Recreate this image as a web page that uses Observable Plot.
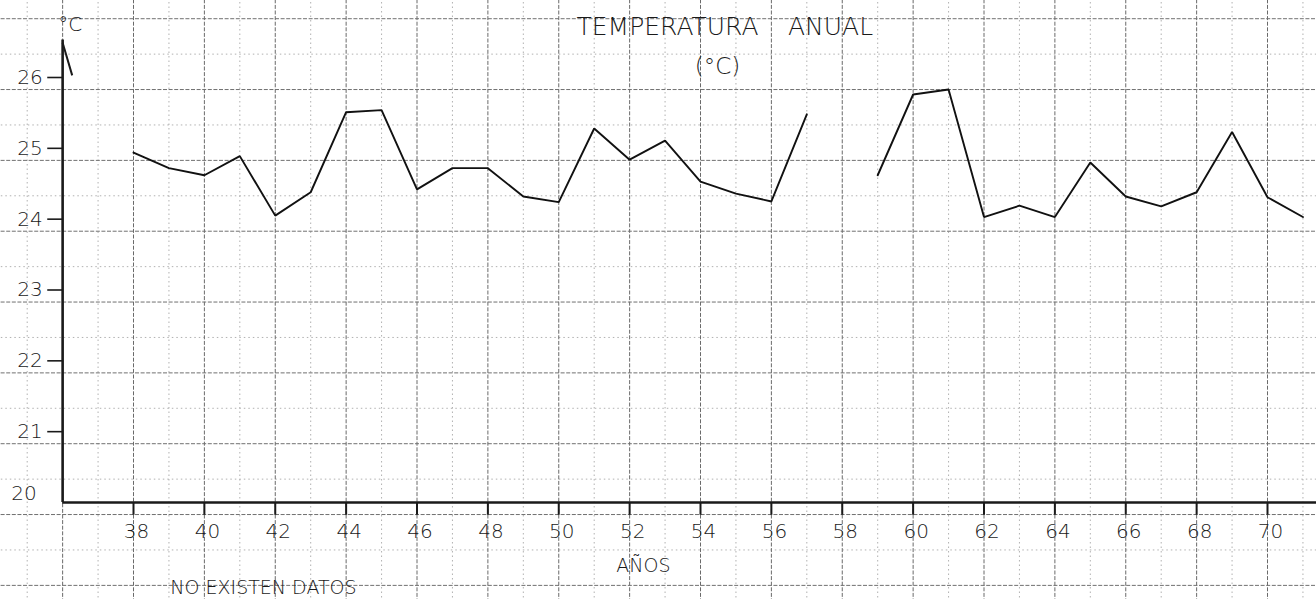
<!DOCTYPE html>
<html>
<head>
<meta charset="utf-8">
<script src="https://cdn.jsdelivr.net/npm/d3@7"></script>
<script src="https://cdn.jsdelivr.net/npm/@observablehq/plot@0.6"></script>
<style>
  html, body { margin: 0; padding: 0; background: #fff; }
  svg { display: block; }
</style>
</head>
<body>
<div id="chart"></div>
<script>
// ---- data ----
const years = [38,39,40,41,42,43,44,45,46,47,48,49,50,51,52,53,54,55,56,57,58,59,60,61,62,63,64,65,66,67,68,69,70,71];
const temps = [24.94,24.72,24.62,24.89,24.05,24.38,25.51,25.54,24.42,24.72,24.72,24.32,24.24,25.28,24.84,25.11,24.53,24.36,24.25,25.48,null,24.62,25.76,25.83,24.03,24.19,24.03,24.80,24.32,24.18,24.38,25.23,24.31,24.03];
const xTicks = [38,40,42,44,46,48,50,52,54,56,58,60,62,64,66,68,70];
const yTicks = [20,21,22,23,24,25,26];
const titleWords = [
  {text: "TEMPERATURA", x: 53.07, y: 26.72},
  {text: "ANUAL", x: 57.67, y: 26.72}
];
const subtitle = [{text: "(°C)", x: 54.48, y: 26.16}];
const unitLabel = [{text: "°C", x: 35.88, y: 26.75}];
const xTitle = [{text: "AÑOS", x: 52.39, y: 19.10}];
const note = [{text: "NO EXISTEN DATOS", x: 39.04, y: 18.80}];
const axisStroke = [{x1: 36.0, y1: 26.49, x2: 36.27, y2: 26.03}];

const table = years.map((yr, i) => ({year: yr, temp: temps[i]}));

// graph-paper grid (structural)
const gridX = d3.range(34, 74);
const gridY = d3.range(0, 18).map(k => 18.83 + 0.5 * k);

const FONT = "DejaVu Sans";
const INK = "#1a1a1a";

const chart = Plot.plot({
  width: 1316,
  height: 599,
  marginTop: 0, marginRight: 0, marginBottom: 0, marginLeft: 0,
  style: {background: "#fff", fontFamily: FONT, overflow: "visible"},
  x: {domain: [38, 70], range: [133, 1267], axis: null},
  y: {domain: [20, 26], range: [502, 77], axis: null},
  marks: [
    // graph paper: light lines
    Plot.ruleX(gridX.filter(d => d % 2 !== 0), {x: d => d, y1: 17, y2: 28.6, stroke: "#a8a8a8", strokeWidth: 0.9, strokeDasharray: "1.5,3"}),
    Plot.ruleY(gridY.filter((d, i) => i % 2 === 1), {y: d => d, x1: 33, x2: 74, stroke: "#a8a8a8", strokeWidth: 0.9, strokeDasharray: "1.5,3"}),
    // graph paper: darker lines
    Plot.ruleX(gridX.filter(d => d % 2 === 0), {x: d => d, y1: 17, y2: 28.6, stroke: "#6a6a6a", strokeWidth: 1, strokeDasharray: "4,1.6"}),
    Plot.ruleY(gridY.filter((d, i) => i % 2 === 0), {y: d => d, x1: 33, x2: 74, stroke: "#707070", strokeWidth: 1, strokeDasharray: "4,1.6"}),
    // axes
    Plot.ruleY([20], {x1: 36, x2: 74, stroke: INK, strokeWidth: 2.6}),
    Plot.ruleX([36], {y1: 20, y2: 26.53, stroke: INK, strokeWidth: 2.6}),
    Plot.link(axisStroke, {x1: "x1", y1: "y1", x2: "x2", y2: "y2", stroke: INK, strokeWidth: 2}),
    // x ticks
    Plot.ruleX(xTicks, {x: d => d, y1: 20, y2: 19.82, stroke: INK, strokeWidth: 2}),
    // y ticks
    Plot.ruleY(yTicks.filter(d => d !== 20), {y: d => d, x1: 35.58, x2: 36, stroke: INK, strokeWidth: 1.6}),
    // labels
    Plot.text(xTicks, {x: d => d, y: 20, dy: 29, dx: 3, text: d => String(d), fontSize: 20, fill: INK, fontFamily: FONT, fontWeight: 300}),
    Plot.text(yTicks.filter(d => d !== 20), {x: 36, y: d => d, dx: -20, textAnchor: "end", text: d => String(d), fontSize: 20, fill: INK, fontFamily: FONT, fontWeight: 300}),
    Plot.text(yTicks.filter(d => d === 20), {x: 36, y: d => d, dx: -26, dy: -9, textAnchor: "end", text: d => String(d), fontSize: 20, fill: INK, fontFamily: FONT, fontWeight: 300}),
    Plot.text(unitLabel, {x: "x", y: "y", text: "text", textAnchor: "start", fontSize: 20, fill: INK, fontFamily: FONT, fontWeight: 300}),
    Plot.text(titleWords, {x: "x", y: "y", text: "text", fontSize: 25, fill: INK, fontFamily: FONT, fontWeight: 300, ariaLabel: "title"}),
    Plot.text(subtitle, {x: "x", y: "y", text: "text", fontSize: 23, fill: INK, fontFamily: FONT, fontWeight: 300}),
    Plot.text(xTitle, {x: "x", y: "y", text: "text", fontSize: 19, fill: INK, fontFamily: FONT, fontWeight: 300, ariaLabel: "xtitle"}),
    Plot.text(note, {x: "x", y: "y", text: "text", textAnchor: "start", fontSize: 19, fill: INK, fontFamily: FONT, fontWeight: 300}),
    // data line
    Plot.line(table, {x: "year", y: "temp", stroke: "#111", strokeWidth: 1.9, strokeLinejoin: "miter"})
  ]
});

d3.select(chart).selectAll('g[aria-label="title"] text').style("letter-spacing", "2.5px");
d3.select(chart).selectAll('g[aria-label="xtitle"] text').style("letter-spacing", "2px");
document.getElementById("chart").appendChild(chart);
</script>
</body>
</html>
